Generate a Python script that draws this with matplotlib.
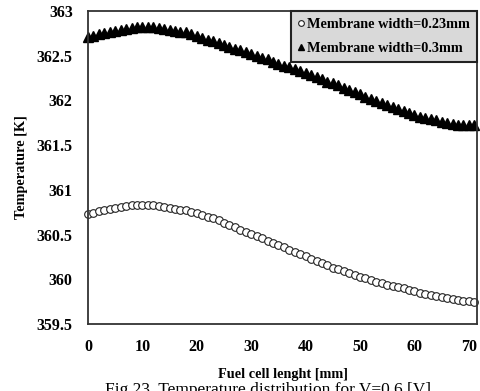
import matplotlib
matplotlib.use("Agg")
import matplotlib.pyplot as plt

# fuel cell length [mm]
length = list(range(0, 72))

temp_023 = [360.73, 360.74, 360.76, 360.77, 360.79, 360.80, 360.81, 360.82, 360.83, 360.83,
            360.83, 360.83, 360.83, 360.82, 360.81, 360.80, 360.79, 360.78, 360.77, 360.75,
            360.74, 360.72, 360.70, 360.68, 360.66, 360.63, 360.61, 360.58, 360.55, 360.53,
            360.51, 360.48, 360.46, 360.43, 360.41, 360.38, 360.36, 360.33, 360.31, 360.28,
            360.26, 360.23, 360.21, 360.18, 360.16, 360.13, 360.11, 360.09, 360.07, 360.05,
            360.03, 360.01, 359.99, 359.97, 359.96, 359.94, 359.93, 359.91, 359.90, 359.88,
            359.87, 359.85, 359.84, 359.82, 359.81, 359.80, 359.79, 359.78, 359.77, 359.76,
            359.76, 359.75]

temp_03 = [362.71, 362.72, 362.74, 362.75, 362.77, 362.78, 362.79, 362.80, 362.81, 362.82,
           362.82, 362.82, 362.82, 362.81, 362.80, 362.79, 362.78, 362.77, 362.76, 362.74,
           362.72, 362.70, 362.68, 362.66, 362.64, 362.62, 362.60, 362.58, 362.56, 362.54,
           362.52, 362.50, 362.48, 362.46, 362.43, 362.41, 362.39, 362.37, 362.35, 362.33,
           362.31, 362.28, 362.26, 362.24, 362.21, 362.19, 362.17, 362.14, 362.12, 362.09,
           362.07, 362.04, 362.02, 361.99, 361.97, 361.95, 361.93, 361.90, 361.88, 361.86,
           361.84, 361.82, 361.80, 361.79, 361.78, 361.76, 361.75, 361.74, 361.73, 361.73,
           361.72, 361.72]

xticks = [0, 10, 20, 30, 40, 50, 60, 70]
yticks = [359.5, 360, 360.5, 361, 361.5, 362, 362.5, 363]
ytick_labels = ["359.5", "360", "360.5", "361", "361.5", "362", "362.5", "363"]

plt.rcParams['font.family'] = ['Liberation Serif', 'DejaVu Serif']

fig = plt.figure(figsize=(4.81, 3.91), dpi=100)
ax = fig.add_axes([88 / 481, 67 / 391, 389 / 481, 313 / 391])

ax.plot(length, temp_023, linestyle='none', marker='o', markersize=5.5,
        markerfacecolor='white', markeredgecolor='#222222', markeredgewidth=0.8,
        clip_on=False, label='Membrane width=0.23mm')
ax.plot(length, temp_03, linestyle='none', marker='^', markersize=6.5,
        color='black', clip_on=False, label='Membrane width=0.3mm')

ax.set_xlim(0, 71.5)
ax.set_ylim(359.5, 363)
ax.set_xticks(xticks)
ax.set_yticks(yticks)
ax.set_yticklabels(ytick_labels)
ax.tick_params(length=0, labelsize=11.5, pad=11)
for lab in ax.get_xticklabels() + ax.get_yticklabels():
    lab.set_fontweight('bold')
for sp in ax.spines.values():
    sp.set_linewidth(1.3)
    sp.set_color('#333333')

ax.set_xlabel('Fuel cell lenght [mm]', fontsize=10.3, fontweight='bold', labelpad=9)
ax.set_ylabel('Temperature [K]', fontsize=10.3, fontweight='bold', labelpad=6)

leg = ax.legend(loc='upper right', borderaxespad=0, fontsize=10.3, frameon=True,
                fancybox=False, handlelength=0.5, handletextpad=0.15,
                markerscale=0.75, borderpad=0.5, labelspacing=0.75)
leg.get_frame().set_facecolor('#d9d9d9')
leg.get_frame().set_edgecolor('#222222')
leg.get_frame().set_linewidth(1.5)
leg.get_frame().set_alpha(1)
for t in leg.get_texts():
    t.set_fontweight('bold')

fig.text(105 / 481, -3 / 391, 'Fig.23. Temperature distribution for V=0.6 [V]',
         fontsize=12.5, va='baseline', ha='left')

fig.savefig('out.png', dpi=100)
